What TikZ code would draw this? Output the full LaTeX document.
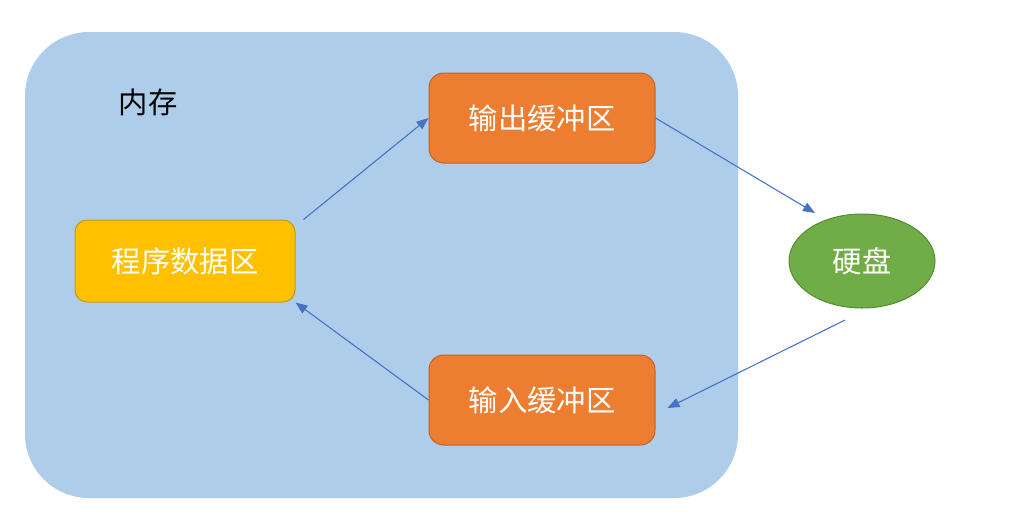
\documentclass[tikz,border=0pt]{standalone}
\usepackage{fontspec}
\newfontfamily\cjk{Noto Sans CJK SC}
\usetikzlibrary{shapes.geometric,calc,arrows.meta}
\definecolor{memfill}{HTML}{AECDEA}
\definecolor{orangefill}{HTML}{ED7D31}
\definecolor{orangeline}{HTML}{C0652A}
\definecolor{yellowfill}{HTML}{FFC000}
\definecolor{yellowline}{HTML}{C49A14}
\definecolor{greenfill}{HTML}{70AD47}
\definecolor{greenline}{HTML}{558A35}
\definecolor{arrowblue}{HTML}{4472C4}
\tikzset{
  lbl/.style={font=\cjk\fontsize{22}{26}\selectfont},
  buf/.style={lbl, draw=orangeline, fill=orangefill, text=white, rounded corners=11pt,
    minimum width=169.5pt, minimum height=67.5pt, line width=0.75pt, inner sep=0pt},
  prog/.style={lbl, draw=yellowline, fill=yellowfill, text=white, rounded corners=9pt,
    minimum width=165pt, minimum height=61.5pt, line width=0.75pt, inner sep=0pt},
  disk/.style={lbl, ellipse, draw=greenline, fill=greenfill, text=white,
    minimum width=109.5pt, minimum height=70.5pt, line width=0.75pt, inner sep=0pt},
  mem/.style={fill=memfill, rounded corners=48pt, minimum width=534.75pt, minimum height=349.5pt, inner sep=0pt},
  conn/.style={draw=arrowblue, line width=0.8pt, -{Triangle[length=9pt,width=7pt]}}
}
\begin{document}
\begin{tikzpicture}[x=0.75pt,y=-0.75pt]
\useasboundingbox (0,0) rectangle (1017,526);
\node[mem] (m) at (381.5,265) {};
\node[lbl, text=black] (t) at (148,102) {内存};
\node[buf] (ob) at (542,118) {输出缓冲区};
\node[buf] (ib) at (542,400) {输入缓冲区};
\node[prog] (pd) at (185,261) {程序数据区};
\node[disk] (hd) at (862,261) {硬盘};
\draw[conn] ($(pd.north east)+(8,0)$) -- (ob.west);
\draw[conn] (ob.east) -- ($(hd.center)+(-47,-48)$);
\draw[conn] ($(hd.center)+(-17,59)$) -- ($(ib.east)+(12,8)$);
\draw[conn] (ib.west) -- (pd.south east);
\end{tikzpicture}
\end{document}
